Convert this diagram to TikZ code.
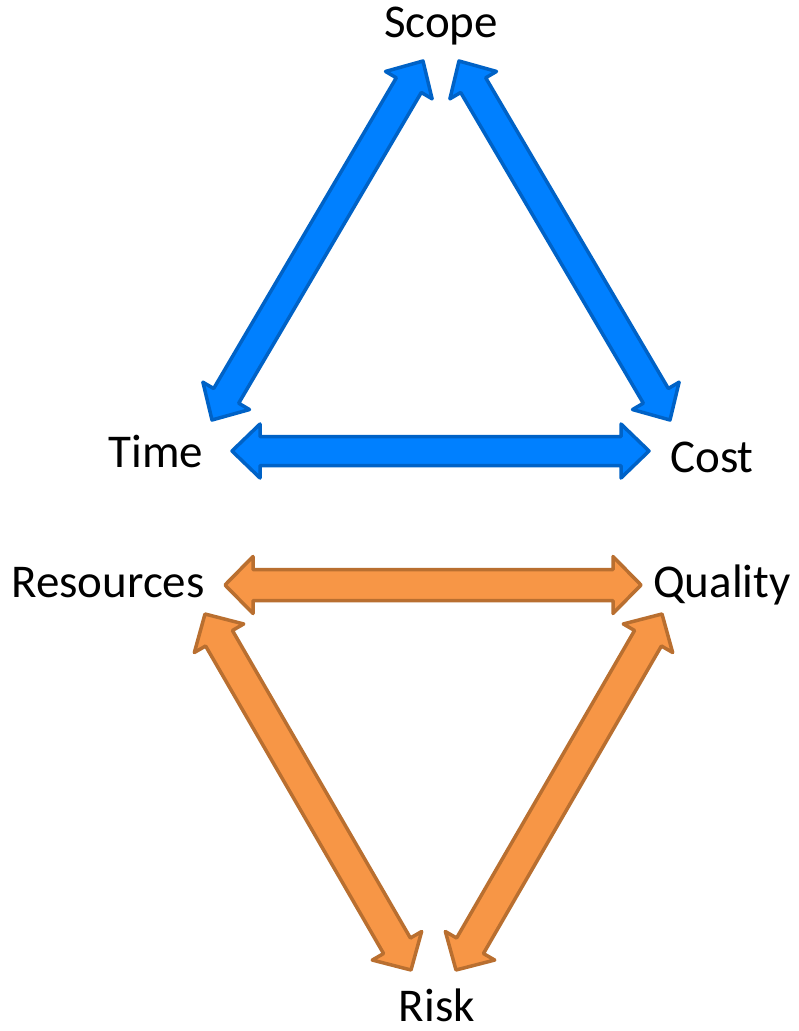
\documentclass[tikz,border=0pt]{standalone}
\usepackage{fontspec}
\setmainfont{Carlito}
\usetikzlibrary{calc}

\definecolor{blockblue}{HTML}{0080FF}
\definecolor{blockblueline}{HTML}{0062C6}
\definecolor{blockorange}{HTML}{F79646}
\definecolor{blockorangeline}{HTML}{B96F30}

% arrow geometry (pt)
\newcommand{\headlen}{28pt}
\newcommand{\headwd}{27pt}
\newcommand{\shaftwd}{14.5pt}

% double headed block arrow between two named coordinates
\newcommand{\blockarrow}[3]{%
  \coordinate (ha) at ($(#1)!\headlen!(#2)$);
  \coordinate (hb) at ($(#2)!\headlen!(#1)$);
  \draw[#3] (#1) -- ($(ha)!\headwd!90:(#2)$) -- ($(ha)!\shaftwd!90:(#2)$)
    -- ($(hb)!\shaftwd!-90:(#1)$) -- ($(hb)!\headwd!-90:(#1)$) -- (#2)
    -- ($(hb)!\headwd!90:(#1)$) -- ($(hb)!\shaftwd!90:(#1)$)
    -- ($(ha)!\shaftwd!-90:(#2)$) -- ($(ha)!\headwd!-90:(#2)$) -- cycle;
}

\tikzset{
  label/.style={font=\fontsize{47}{56}\selectfont, anchor=base, inner sep=0pt},
  bluearrow/.style={fill=blockblue, draw=blockblueline, line width=3.5pt, line join=round},
  orangearrow/.style={fill=blockorange, draw=blockorangeline, line width=3.5pt, line join=round}
}

\begin{document}
\begin{tikzpicture}[x=1pt, y=-1pt]
  \useasboundingbox (0,0) rectangle (799,1031);

  % Labels
  \node[label] (scope) at (441,37) {Scope};
  \node[label] (time) at (156,467) {Time};
  \node[label] (cost) at (712,472) {Cost};
  \node[label] (resources) at (108,597) {Resources};
  \node[label] (quality) at (722,597) {Quality};
  \node[label] (risk) at (437,1021) {Risk};

  % Arrow tips, upper triangle
  \coordinate (scopeL) at (423,61);
  \coordinate (scopeR) at (459,61);
  \coordinate (timeU) at (212,420);
  \coordinate (timeR) at (232,451);
  \coordinate (costU) at (670,420);
  \coordinate (costL) at (649,451);

  % Arrow tips, lower triangle
  \coordinate (resourcesR) at (225,585);
  \coordinate (resourcesD) at (205,614);
  \coordinate (qualityL) at (641,585);
  \coordinate (qualityD) at (662,614);
  \coordinate (riskL) at (411,970);
  \coordinate (riskR) at (456,970);

  % Scope - Time - Cost
  \blockarrow{scopeL}{timeU}{bluearrow}
  \blockarrow{scopeR}{costU}{bluearrow}
  \blockarrow{timeR}{costL}{bluearrow}

  % Resources - Quality - Risk
  \renewcommand{\headwd}{28.5pt}
  \renewcommand{\shaftwd}{15.5pt}
  \blockarrow{resourcesR}{qualityL}{orangearrow}
  \blockarrow{resourcesD}{riskL}{orangearrow}
  \blockarrow{qualityD}{riskR}{orangearrow}
\end{tikzpicture}
\end{document}
